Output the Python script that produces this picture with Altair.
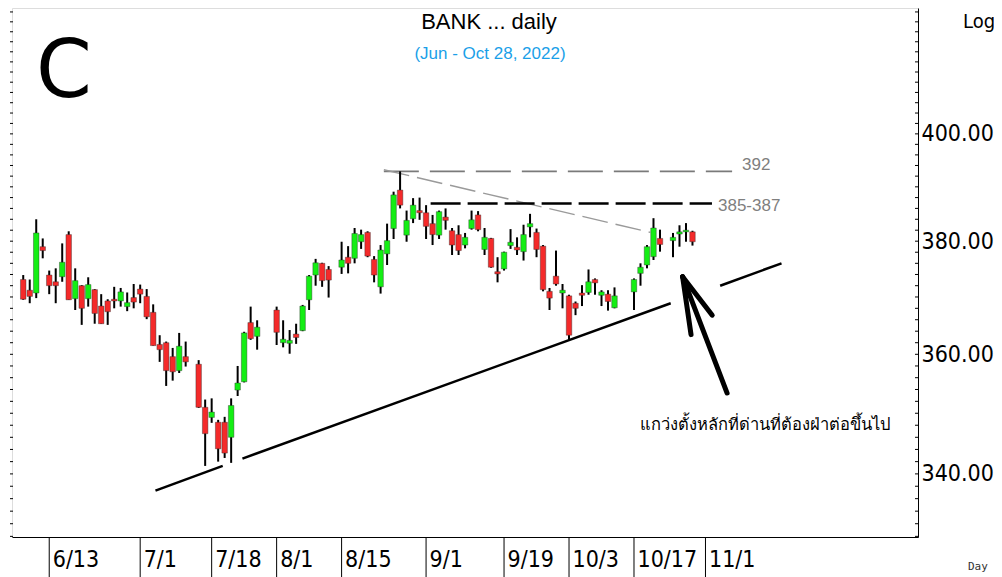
import altair as alt
import pandas as pd

# ---- candle data (weekday slot index, Thai BANK index, Jun 7 - Oct 28, 2022) ----
slot = [0, 1, 2, 3, 4, 5, 6, 7, 8, 9, 10, 11, 12, 13, 14, 15, 16, 17, 18, 19,
        20, 21, 22, 23, 24, 25, 27, 28, 29, 30, 31, 32, 33, 34, 35, 36, 39, 40, 41, 42,
        43, 44, 45, 46, 47, 49, 50, 51, 52, 53, 54, 55, 56, 57, 58, 59, 60, 61, 62, 63,
        64, 65, 66, 67, 68, 69, 70, 71, 72, 73, 74, 75, 76, 77, 78, 79, 80, 81, 82, 83,
        84, 85, 86, 87, 88, 89, 90, 91, 94, 95, 96, 97, 98, 100, 101, 102, 103]
open_ = [373.1, 371.2, 370.7, 379.0, 373.9, 372.7, 373.6, 381.2, 369.7, 372.0,
         369.7, 371.3, 368.4, 369.3, 369.6, 369.3, 368.3, 369.9, 371.4, 370.1,
         367.3, 361.7, 362.0, 359.6, 357.2, 359.6, 358.3, 351.0, 349.3, 348.5,
         348.5, 346.0, 353.9, 355.3, 365.5, 363.1, 367.7, 362.0, 361.9, 363.5,
         364.1, 369.5, 373.9, 376.0, 374.9, 375.3, 377.1, 376.9, 379.9, 381.6,
         376.7, 371.8, 377.7, 382.3, 389.4, 381.1, 384.1, 385.6, 385.2, 383.2,
         381.1, 384.4, 381.9, 381.2, 379.3, 382.3, 384.8, 378.5, 380.5, 374.5,
         375.0, 379.2, 378.9, 378.1, 382.6, 381.6, 379.1, 371.0, 373.7, 370.7,
         370.2, 368.9, 370.7, 370.8, 373.1, 370.3, 370.5, 368.1, 370.9, 374.2,
         375.7, 377.2, 380.5, 380.1, 381.3, 381.7, 381.7]
high = [373.9, 373.1, 384.0, 380.5, 374.7, 375.1, 379.6, 381.8, 375.1, 372.1,
        373.5, 371.4, 370.5, 369.6, 371.8, 371.6, 370.8, 372.3, 372.2, 371.4,
        368.7, 363.3, 362.2, 361.1, 363.7, 362.2, 359.0, 352.3, 352.5, 348.9,
        349.4, 352.5, 358.0, 363.9, 368.3, 365.9, 368.3, 365.9, 364.2, 365.3,
        368.6, 373.9, 376.8, 376.1, 375.5, 379.9, 379.1, 382.4, 382.1, 381.8,
        377.3, 379.3, 383.2, 389.1, 392.9, 385.6, 387.9, 388.0, 386.6, 384.8,
        385.6, 386.0, 382.4, 382.9, 381.5, 385.6, 385.5, 382.4, 380.6, 377.1,
        378.1, 382.2, 380.7, 383.0, 385.0, 382.3, 379.3, 371.6, 378.3, 372.3,
        370.4, 369.2, 372.1, 374.9, 373.3, 371.2, 371.2, 371.7, 373.3, 376.0,
        379.3, 384.2, 382.1, 381.5, 382.9, 383.3, 381.9]
low = [369.5, 368.9, 369.8, 376.9, 370.5, 368.9, 372.7, 369.5, 367.7, 365.1,
       368.3, 365.3, 365.3, 365.1, 368.0, 368.3, 367.5, 368.0, 368.9, 366.1,
       361.5, 358.7, 354.6, 355.5, 356.8, 357.9, 350.9, 341.3, 348.4, 342.0,
       342.6, 341.8, 352.9, 355.2, 362.5, 360.8, 361.6, 361.2, 360.1, 361.8,
       364.0, 367.7, 372.0, 371.8, 369.9, 374.1, 374.2, 376.0, 378.6, 377.1,
       372.6, 370.6, 375.7, 380.4, 386.0, 379.9, 383.3, 383.9, 380.4, 379.3,
       380.4, 382.1, 377.5, 377.5, 378.7, 382.1, 381.8, 377.5, 375.2, 372.6,
       374.7, 378.6, 377.5, 376.5, 380.7, 377.1, 371.0, 367.7, 372.0, 368.0,
       362.6, 366.8, 368.4, 370.4, 370.4, 368.4, 367.6, 368.0, 367.7, 372.0,
       375.1, 376.6, 378.1, 377.1, 379.0, 379.9, 379.2]
close = [369.6, 370.1, 381.5, 378.3, 372.0, 372.0, 376.2, 369.5, 372.9, 368.0,
         372.2, 367.1, 365.3, 367.4, 369.3, 370.9, 369.0, 369.1, 370.5, 366.5,
         361.5, 360.8, 357.2, 357.0, 361.4, 358.7, 351.0, 346.6, 350.2, 344.1,
         343.4, 351.3, 355.1, 363.7, 362.7, 364.7, 363.8, 362.6, 362.4, 362.9,
         368.4, 373.7, 376.1, 372.9, 373.0, 376.6, 376.0, 381.4, 381.2, 377.3,
         373.9, 378.4, 380.1, 388.5, 386.6, 383.8, 386.6, 385.2, 382.7, 381.2,
         385.4, 383.8, 379.3, 378.3, 380.7, 383.9, 382.1, 380.7, 375.3, 374.1,
         378.0, 379.8, 378.4, 381.2, 383.2, 378.5, 371.3, 369.8, 372.3, 371.2,
         363.3, 368.0, 370.3, 372.7, 372.5, 370.9, 369.2, 370.2, 373.1, 375.3,
         379.0, 382.4, 379.4, 380.7, 381.7, 382.0, 379.9]

# ---- axis labels ----
date_slots = [4, 18, 29, 39, 49, 62, 74, 84, 94, 105]
date_labels = ["6/13", "7/1", "7/18", "8/1", "8/15", "9/1", "9/19", "10/3", "10/17", "11/1"]
price_ticks = [340, 360, 380, 400]
minor_ticks = [330 + 2 * k for k in range(48)]

# ---- annotations (slot, price) ----
support_x1 = [20.35, 33.74, 107.26]
support_y1 = [337.3, 342.5, 372.0]
support_x2 = [30.70, 99.65, 116.70]
support_y2 = [341.3, 368.9, 376.0]
resist_top = 392.9
resist_top_x = [55.5, 109.1]
resist_mid = 386.9
resist_mid_x = [62.7, 106.0]
diag_x = [55.5, 96.5]
diag_y = [393.2, 381.6]
arrow_tip = (101.48, 373.6)
arrow_ends_x = [108.33, 102.78, 106.04]
arrow_ends_y = [353.4, 363.4, 366.8]

GREEN = "#14EE14"
RED = "#F42A2A"
W, H = 906, 529
AXFONT = "DejaVu Sans Condensed, DejaVu Sans"

df = pd.DataFrame({"slot": slot, "open": open_, "high": high, "low": low, "close": close})
df["dir"] = ["up" if c >= o else "down" for o, c in zip(open_, close)]

xs = alt.Scale(domain=[-0.959, 136.94], nice=False, zero=False)
ys = alt.Scale(type="log", domain=[329.9, 424.8], nice=False, zero=False)

label_expr = " : ".join(
    f"datum.value == {s} ? '{l}'" for s, l in zip(date_slots, date_labels)
) + " : ''"

x_axis = alt.Axis(orient="bottom", values=date_slots, labelExpr=label_expr, ticks=False,
                  tickSize=0, domainColor="black", domainWidth=1, labelAlign="left",
                  labelOffset=3, labelPadding=22, labelBaseline="middle", labelFontSize=23,
                  labelColor="black", labelFont=AXFONT, grid=False, title=None,
                  labelFlush=False, labelOverlap=False, labelBound=False)
y_axis = alt.Axis(orient="right", values=price_ticks, format=".2f", ticks=False,
                  domainColor="black", domainWidth=1, labelFontSize=23, labelPadding=3,
                  labelColor="black", labelFont=AXFONT, grid=False, title=None,
                  labelFlush=False, labelOverlap=False)

base = alt.Chart(df)
wicks = base.mark_rule(color="black", strokeWidth=2).encode(
    x=alt.X("slot:Q", scale=xs, axis=x_axis),
    y=alt.Y("low:Q", scale=ys, axis=y_axis),
    y2="high:Q",
)
bodies = base.mark_bar(size=5.5, stroke="#2a2a2a", strokeWidth=0.4).encode(
    x=alt.X("slot:Q", scale=xs),
    y=alt.Y("open:Q", scale=ys),
    y2="close:Q",
    color=alt.Color("dir:N", scale=alt.Scale(domain=["up", "down"], range=[GREEN, RED]), legend=None),
)

# tick marks on left and right edges
tick_df = pd.DataFrame({"v": minor_ticks})
left_ticks = alt.Chart(tick_df).mark_rule(color="black", strokeWidth=1).encode(
    y=alt.Y("v:Q", scale=ys), x=alt.value(-2), x2=alt.value(1))
right_ticks = alt.Chart(tick_df).mark_rule(color="black", strokeWidth=1).encode(
    y=alt.Y("v:Q", scale=ys), x=alt.value(W - 3), x2=alt.value(W))

# date separators under the axis
sep_df = pd.DataFrame({"slot": date_slots})
seps = alt.Chart(sep_df).mark_rule(color="black", strokeWidth=1).encode(
    x=alt.X("slot:Q", scale=xs), y=alt.value(H), y2=alt.value(H + 42))

# support trend line segments
sup_df = pd.DataFrame({"x1": support_x1, "y1": support_y1, "x2": support_x2, "y2": support_y2})
support = alt.Chart(sup_df).mark_rule(color="black", strokeWidth=2.5).encode(
    x=alt.X("x1:Q", scale=xs), y=alt.Y("y1:Q", scale=ys), x2="x2:Q", y2="y2:Q")

top_df = pd.DataFrame({"x1": [resist_top_x[0]], "x2": [resist_top_x[1]], "y": [resist_top]})
top_line = alt.Chart(top_df).mark_rule(color="#7a7a7a", strokeWidth=1.6, strokeDash=[35, 11]).encode(
    x=alt.X("x1:Q", scale=xs), x2="x2:Q", y=alt.Y("y:Q", scale=ys))

mid_df = pd.DataFrame({"x1": [resist_mid_x[0]], "x2": [resist_mid_x[1]], "y": [resist_mid]})
mid_line = alt.Chart(mid_df).mark_rule(color="black", strokeWidth=2.5, strokeDash=[30, 7]).encode(
    x=alt.X("x1:Q", scale=xs), x2="x2:Q", y=alt.Y("y:Q", scale=ys))

diag_df = pd.DataFrame({"x1": [diag_x[0]], "y1": [diag_y[0]], "x2": [diag_x[1]], "y2": [diag_y[1]]})
diag = alt.Chart(diag_df).mark_rule(color="#9a9a9a", strokeWidth=1.4, strokeDash=[26, 8]).encode(
    x=alt.X("x1:Q", scale=xs), y=alt.Y("y1:Q", scale=ys), x2="x2:Q", y2="y2:Q")

arr_df = pd.DataFrame({"x1": [arrow_tip[0]] * 3, "y1": [arrow_tip[1]] * 3,
                       "x2": arrow_ends_x, "y2": arrow_ends_y})
arrow = alt.Chart(arr_df).mark_rule(color="black", strokeWidth=5, strokeCap="round").encode(
    x=alt.X("x1:Q", scale=xs), y=alt.Y("y1:Q", scale=ys), x2="x2:Q", y2="y2:Q")


def txt(text, x, y, size, color="black", font="Liberation Sans", align="left", baseline="middle"):
    return alt.Chart(pd.DataFrame({"t": [text]})).mark_text(
        fontSize=size, color=color, font=font, align=align, baseline=baseline
    ).encode(text="t:N", x=alt.value(x), y=alt.value(y))


texts = [
    txt("BANK ... daily", 477, 14, 22, align="center"),
    txt("(Jun - Oct 28, 2022)", 478, 46, 17, color="#1A9FE8", align="center"),
    txt("C", 24, 89, 80, font="DejaVu Sans", baseline="alphabetic"),
    txt("Log", 951, 14, 20, font=AXFONT),
    txt("Day", 956, 559, 11, color="#333333", font="DejaVu Sans Mono"),
    txt("392", 730, 157, 17, color="#7f7f7f"),
    txt("385-387", 706, 198, 17, color="#7f7f7f"),
    txt("แกว่งตั้งหลักที่ด่านที่ต้องฝ่าต่อขึ้นไป", 628, 417, 16.5, font="Noto Sans"),
]

chart = alt.layer(
    left_ticks, right_ticks, seps, support, top_line, diag, mid_line, arrow, wicks, bodies, *texts
).properties(
    width=W, height=H,
    autosize=alt.AutoSizeParams(type="none"),
    padding={"left": 4, "top": 0, "right": 76, "bottom": 40},
).configure_view(stroke=None).configure(background="white")

chart.save("out.html", embed_options={"renderer": "svg", "actions": False})
